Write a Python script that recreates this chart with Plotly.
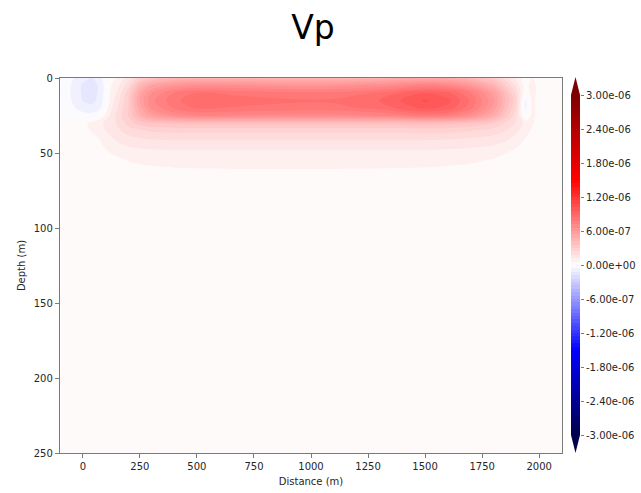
import plotly.graph_objects as go
import numpy as np

# Distance stations (m) and depth stations (m)
distance = [-100, 0, 40, 80, 120, 160, 200, 250, 300, 400, 500, 700, 900, 1100,
            1300, 1500, 1600, 1700, 1800, 1850, 1900, 1940, 1970, 2000, 2100]
depth = [0, 5, 10, 15, 20, 25, 30, 35, 40, 45, 50, 55, 60, 65, 70, 80, 100, 250]

# Kernel values in units of 1e-7, one list per distance station (top to bottom in depth)
SCALE = 1e-7
kernel_columns = {
    -100: [0.01] * 18,
    0:    [-1.0, -1.3, -1.3, -1.2, -0.9, -0.3, 0.4, 0.3, 0.15, 0.08, 0.05, 0.03, 0.02, 0.01, 0.01, 0.01, 0.01, 0.01],
    40:   [-1.2, -1.5, -1.5, -1.4, -1.0, -0.4, 0.8, 0.7, 0.4, 0.3, 0.2, 0.15, 0.1, 0.05, 0.03, 0.01, 0.01, 0.01],
    80:   [-0.7, -1.0, -1.0, -0.9, -0.6, 0.2, 1.1, 1.0, 0.7, 0.55, 0.4, 0.28, 0.2, 0.12, 0.07, 0.02, 0.01, 0.01],
    120:  [0.3, 0.5, 0.6, 0.8, 1.0, 1.3, 1.5, 1.4, 1.1, 0.85, 0.6, 0.44, 0.3, 0.2, 0.12, 0.04, 0.01, 0.01],
    160:  [0.8, 1.2, 1.5, 1.8, 2.0, 2.2, 2.0, 1.75, 1.45, 1.1, 0.7, 0.52, 0.38, 0.26, 0.16, 0.05, 0.01, 0.01],
    200:  [1.5, 2.2, 2.8, 3.0, 3.0, 3.0, 2.7, 2.1, 1.65, 1.25, 0.88, 0.62, 0.45, 0.3, 0.2, 0.06, 0.01, 0.01],
    250:  [2.8, 4.2, 5.2, 5.5, 5.2, 4.6, 3.3, 2.3, 1.8, 1.35, 0.98, 0.7, 0.5, 0.34, 0.22, 0.07, 0.01, 0.01],
    300:  [3.5, 5.4, 6.6, 7.0, 6.7, 5.7, 3.6, 2.5, 1.9, 1.4, 1.02, 0.75, 0.54, 0.38, 0.25, 0.08, 0.01, 0.01],
    400:  [4.2, 6.3, 7.8, 8.2, 7.9, 6.7, 3.7, 2.6, 1.95, 1.45, 1.05, 0.79, 0.59, 0.42, 0.28, 0.09, 0.01, 0.01],
    500:  [4.5, 6.7, 8.4, 8.9, 8.5, 7.2, 3.8, 2.6, 1.95, 1.45, 1.06, 0.8, 0.61, 0.44, 0.3, 0.1, 0.01, 0.01],
    700:  [4.5, 6.6, 8.2, 8.7, 8.3, 7.1, 3.8, 2.6, 1.95, 1.45, 1.06, 0.8, 0.62, 0.45, 0.3, 0.1, 0.01, 0.01],
    900:  [4.4, 6.4, 8.0, 8.5, 8.2, 7.0, 3.8, 2.6, 1.95, 1.45, 1.06, 0.8, 0.62, 0.45, 0.3, 0.1, 0.01, 0.01],
    1100: [4.4, 6.4, 8.0, 8.5, 8.2, 7.0, 3.8, 2.6, 1.95, 1.45, 1.06, 0.8, 0.62, 0.45, 0.3, 0.1, 0.01, 0.01],
    1300: [4.6, 6.8, 8.5, 9.0, 8.6, 7.3, 3.8, 2.6, 1.95, 1.45, 1.06, 0.8, 0.61, 0.44, 0.3, 0.1, 0.01, 0.01],
    1500: [5.0, 7.5, 9.6, 10.3, 9.8, 8.0, 3.9, 2.65, 1.95, 1.45, 1.05, 0.78, 0.59, 0.42, 0.28, 0.09, 0.01, 0.01],
    1600: [4.8, 7.2, 9.2, 9.8, 9.4, 7.7, 3.8, 2.6, 1.9, 1.4, 1.0, 0.74, 0.55, 0.39, 0.26, 0.08, 0.01, 0.01],
    1700: [4.2, 6.2, 7.8, 8.3, 8.0, 6.7, 3.5, 2.45, 1.8, 1.33, 0.94, 0.68, 0.5, 0.35, 0.23, 0.07, 0.01, 0.01],
    1800: [3.0, 4.5, 5.7, 6.1, 5.8, 4.9, 3.0, 2.15, 1.6, 1.2, 0.76, 0.55, 0.4, 0.28, 0.18, 0.05, 0.01, 0.01],
    1850: [2.1, 3.1, 4.0, 4.3, 4.0, 3.4, 2.4, 1.85, 1.4, 1.0, 0.62, 0.46, 0.33, 0.22, 0.14, 0.04, 0.01, 0.01],
    1900: [1.0, 1.6, 2.2, 2.5, 2.3, 2.0, 1.75, 1.35, 1.0, 0.68, 0.45, 0.31, 0.22, 0.15, 0.09, 0.02, 0.01, 0.01],
    1940: [0.2, 0.3, 0.1, -0.7, -0.8, -0.2, 1.0, 0.85, 0.6, 0.42, 0.29, 0.2, 0.14, 0.09, 0.05, 0.01, 0.01, 0.01],
    1970: [0.6, 0.9, 0.9, 0.8, 0.8, 0.8, 0.7, 0.5, 0.35, 0.25, 0.18, 0.12, 0.08, 0.05, 0.03, 0.01, 0.01, 0.01],
    2000: [0.2, 0.3, 0.3, 0.3, 0.3, 0.3, 0.25, 0.2, 0.1, 0.05, 0.03, 0.02, 0.01, 0.01, 0.01, 0.01, 0.01, 0.01],
    2100: [0.01] * 18,
}

# contour levels (matplotlib-style contourf levels)
level_min, level_max, level_step = -3e-6, 3e-6, 6e-8

cbar_ticks = [3.0e-6, 2.4e-6, 1.8e-6, 1.2e-6, 6.0e-7, 0.0, -6.0e-7, -1.2e-6, -1.8e-6, -2.4e-6, -3.0e-6]
cbar_labels = ["3.00e-06", "2.40e-06", "1.80e-06", "1.20e-06", "6.00e-07", "0.00e+00",
               "-6.00e-07", "-1.20e-06", "-1.80e-06", "-2.40e-06", "-3.00e-06"]
x_ticks = [0, 250, 500, 750, 1000, 1250, 1500, 1750, 2000]
y_ticks = [0, 50, 100, 150, 200, 250]

# z[depth][distance]
z = np.array([kernel_columns[d] for d in distance]).T * SCALE

seismic = [[0.0, "rgb(0,0,76)"], [0.25, "rgb(0,0,255)"], [0.5, "rgb(255,255,255)"],
           [0.75, "rgb(255,0,0)"], [1.0, "rgb(127,0,0)"]]

font_family = "DejaVu Sans"
axis_color = "#7a7a7a"
text_color = "#262626"

# layout geometry (pixels)
W, H = 641, 493
ML, MR, MT, MB = 60, 0, 78, 40
pw = W - ML - MR
ph = H - MT - MB
plot_right = 562
cb_left, cb_right = 571, 580
cb_top, cb_bot = 95, 435

main_dom = [0, (plot_right - ML) / pw]
cb_dom_x = [(cb_left - ML) / pw, (cb_right - ML) / pw]
cb_dom_y = [(H - MB - cb_bot) / ph, (H - MB - cb_top) / ph]

fig = go.Figure()
fig.add_trace(go.Contour(
    x=distance, y=depth, z=z,
    colorscale=seismic,
    autocontour=False,
    contours=dict(start=level_min, end=level_max, size=level_step, coloring="fill", showlines=False),
    line=dict(width=0),
    showscale=False,
    hoverinfo="skip",
    xaxis="x", yaxis="y",
))

# colorbar as a banded heatmap on its own axes
band_centers = np.arange(level_min + level_step / 2, level_max, level_step)
fig.add_trace(go.Heatmap(
    x=[0], y=band_centers, z=band_centers.reshape(-1, 1),
    colorscale=seismic, zmin=level_min, zmax=level_max,
    showscale=False, hoverinfo="skip",
    xaxis="x2", yaxis="y2",
))

# colorbar extension triangles (extend='both')
xl, xr = cb_dom_x
xc = (xl + xr) / 2
top_base = cb_dom_y[1]
top_apex = (H - MB - 77) / ph
bot_base = cb_dom_y[0]
bot_apex = (H - MB - 453) / ph
fig.add_shape(type="path", xref="paper", yref="paper",
              path=f"M {xl},{top_base} L {xr},{top_base} L {xc},{top_apex} Z",
              fillcolor="rgb(127,0,0)", line=dict(width=0))
fig.add_shape(type="path", xref="paper", yref="paper",
              path=f"M {xl},{bot_base} L {xr},{bot_base} L {xc},{bot_apex} Z",
              fillcolor="rgb(0,0,76)", line=dict(width=0))

axis_common = dict(
    showgrid=False, zeroline=False, showline=True, mirror=True,
    linecolor=axis_color, linewidth=1.3,
    ticks="outside", ticklen=4, tickcolor=axis_color, tickwidth=1,
    tickfont=dict(family=font_family, size=10, color=text_color),
)

fig.update_layout(
    width=W, height=H,
    margin=dict(l=ML, r=MR, t=MT, b=MB),
    paper_bgcolor="white", plot_bgcolor="#fffafa",
    title=dict(text="Vp", x=313 / W, xanchor="center", y=1 - 27 / H, yanchor="middle",
               font=dict(family=font_family, size=33, color="black")),
    xaxis=dict(domain=main_dom, range=[-100, 2100], tickvals=x_ticks,
               title=dict(text="Distance (m)", standoff=6,
                          font=dict(family=font_family, size=10, color=text_color)),
               **axis_common),
    yaxis=dict(range=[250, 0], tickvals=y_ticks,
               title=dict(text="Depth (m)", standoff=6,
                          font=dict(family=font_family, size=10, color=text_color)),
               **axis_common),
    xaxis2=dict(domain=cb_dom_x, anchor="y2", range=[-0.5, 0.5], showticklabels=False,
                showgrid=False, zeroline=False, showline=False, ticks=""),
    yaxis2=dict(domain=cb_dom_y, anchor="x2", side="right", range=[level_min, level_max],
                tickvals=cbar_ticks, ticktext=cbar_labels,
                showgrid=False, zeroline=False, showline=False,
                ticks="outside", ticklen=3, tickcolor=axis_color,
                tickfont=dict(family=font_family, size=10, color=text_color)),
    showlegend=False,
)

fig.write_html("out.html")
